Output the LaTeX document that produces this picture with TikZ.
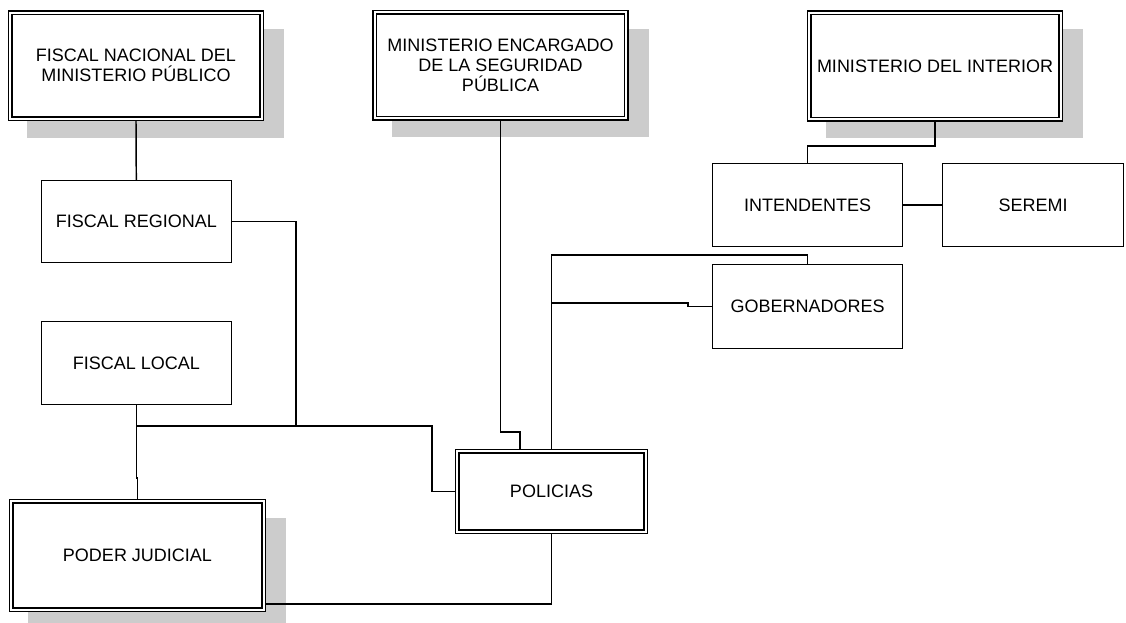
\documentclass[tikz,border=0pt]{standalone}
\usepackage{fontspec}
\setmainfont{Liberation Sans}
\usetikzlibrary{shadows}
\begin{document}
\begin{tikzpicture}[x=0.75pt,y=-0.75pt,
  every node/.style={font=\fontsize{13.5}{15}\selectfont, align=center, inner sep=0pt},
  plainbox/.style={draw, line width=1pt, fill=white, outer sep=0.5pt},
  framedbox/.style={draw, fill=white, line width=1.05pt, double=white, double distance=1.5pt,
    outer sep=1.8pt},
  doublebox/.style={framedbox,
    drop shadow={shadow xshift=14.5pt, shadow yshift=-13pt, shadow scale=1.02,
      fill=black!20, opacity=1}},
  link/.style={line width=1.1pt}]
\useasboundingbox (0,0) rectangle (1126,623);

% upper level: national authorities
\node[doublebox, minimum width=188.7pt, minimum height=79.5pt] (fn) at (136,65.8)
  {FISCAL NACIONAL DEL\\MINISTERIO PÚBLICO};
\node[doublebox, minimum width=188.7pt, minimum height=79.5pt] (me) at (500.5,65.5)
  {MINISTERIO ENCARGADO\\DE LA SEGURIDAD\\PÚBLICA};
\node[doublebox, minimum width=188.7pt, minimum height=80.2pt] (mdi) at (935,66)
  {MINISTERIO DEL INTERIOR};

% prosecutors
\node[plainbox, minimum width=142.7pt, minimum height=61.3pt] (fr) at (136.3,221.5) {FISCAL REGIONAL};
\node[plainbox, minimum width=142.7pt, minimum height=62pt] (fl) at (136.3,363) {FISCAL LOCAL};

% interior ministry branch
\node[plainbox, minimum width=142.3pt, minimum height=62pt] (int) at (807.5,205) {INTENDENTES};
\node[plainbox, minimum width=135.5pt, minimum height=62pt] (ser) at (1033,205) {SEREMI};
\node[plainbox, minimum width=142.3pt, minimum height=62.8pt] (gob) at (807.5,306.5) {GOBERNADORES};

% police and courts
\node[framedbox, minimum width=141.5pt, minimum height=60.5pt] (pol) at (551.5,491.5) {POLICIAS};
\node[doublebox, minimum width=189.5pt, minimum height=81.5pt] (pj) at (137.5,555.5) {PODER JUDICIAL};

% junction points of the connectors
\coordinate (jR) at (296,426);
\coordinate (jL) at (432,426);
\coordinate (mestep) at (520,432);
\coordinate (gtop) at (0,255);
\coordinate (gstep) at (688,303);
\coordinate (mstep) at (0,146);
\coordinate (pjfoot) at (0,604);

% connectors
\draw[link] (fn.south) -- (fr.north);
\draw[link] (fr.east) -| (jR);
\draw[link] (fl.south) -- ++(0,73) -| (pj.north);
\draw[link] (fl.south |- jL) -- (jL) |- (pol.west);
\draw[link] (me.south) |- (mestep) -- (mestep |- pol.north);
\draw[link] (pol.north) -- (pol.north |- gtop) -| (gob.north);
\draw[link] (pol.north |- gstep) -- (gstep) |- (gob.west);
\draw[link] (pol.south) |- (pj.east |- pjfoot);
\draw[link] (mdi.south) -- (mdi.south |- mstep) -| (int.north);
\draw[link] (int.east) -- (ser.west);
\end{tikzpicture}
\end{document}
